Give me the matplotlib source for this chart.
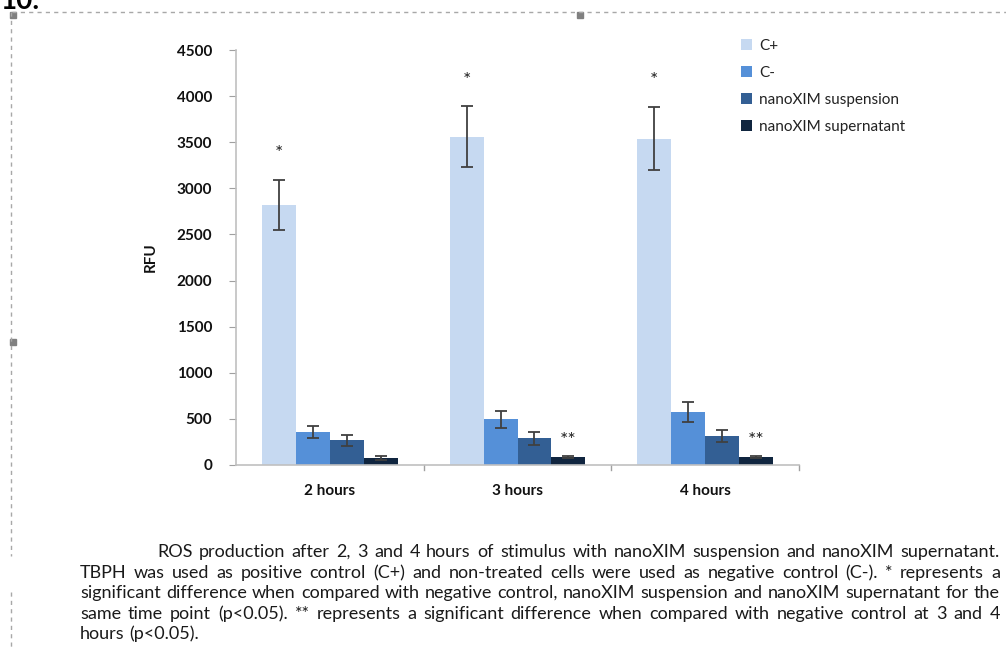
import matplotlib
matplotlib.use("Agg")
import matplotlib.pyplot as plt
import numpy as np
from matplotlib.lines import Line2D
from matplotlib.patches import Rectangle

# ---------------- data ----------------
categories = ["2 hours", "3 hours", "4 hours"]
series_names = ["C+", "C-", "nanoXIM suspension", "nanoXIM supernatant"]
c_pos = [2820, 3560, 3540]
c_neg = [355, 495, 570]
suspension = [270, 290, 315]
supernatant = [78, 90, 90]
err_c_pos = [275, 330, 340]
err_c_neg = [65, 95, 108]
err_suspension = [60, 72, 65]
err_supernatant = [20, 12, 10]
yticks = [0, 500, 1000, 1500, 2000, 2500, 3000, 3500, 4000, 4500]
# significance marks: (category index, series index, label, y value)
sig_marks = [(0, 0, "*", 3380), (1, 0, "*", 4165), (2, 0, "*", 4165),
             (1, 3, "**", 270), (2, 3, "**", 270)]
caption_lines = [
    "ROS production after 2, 3 and 4 hours of stimulus with nanoXIM suspension and nanoXIM supernatant.",
    "TBPH was used as positive control (C+) and non-treated cells were used as negative control (C-). * represents a",
    "significant difference when compared with negative control, nanoXIM suspension and nanoXIM supernatant for the",
    "same time point (p<0.05). ** represents a significant difference when compared with negative control at 3 and 4",
    "hours (p<0.05).",
]

colors = ["#c6d9f1", "#5590d8", "#335f94", "#10253f"]
FONT = "Lato"
plt.rcParams["font.family"] = [FONT, "DejaVu Sans"]

W, H = 1006, 659
fig = plt.figure(figsize=(W / 100, H / 100), dpi=100)
fig.patch.set_facecolor("white")

def fx(px):
    return px / W

def fy(py):
    return 1 - py / H

ax = fig.add_axes([fx(236), fy(465), fx(799) - fx(236), fy(50) - fy(465)])

values = [c_pos, c_neg, suspension, supernatant]
errors = [err_c_pos, err_c_neg, err_suspension, err_supernatant]
x = np.arange(len(categories))
bw = 0.181
offsets = (np.arange(4) - 1.5) * bw
for i in range(4):
    ax.bar(x + offsets[i], values[i], width=bw, color=colors[i], label=series_names[i],
           yerr=errors[i], error_kw=dict(ecolor="#404040", elinewidth=1.3, capsize=4, capthick=1.3),
           zorder=2)

for ci, si, lab, yv in sig_marks:
    ax.text(x[ci] + offsets[si], yv, lab, ha="center", va="center", fontsize=14, color="#222222")

ax.set_xlim(-0.5, 2.5)
ax.set_ylim(0, 4500)
ax.set_yticks(yticks)
ax.set_yticklabels([str(v) for v in yticks], fontsize=11, fontweight="bold", color="#111111")
ax.set_xticks(x)
ax.set_xticklabels(categories, fontsize=11, fontweight="bold", color="#111111")
ax.tick_params(axis="x", length=0, pad=14)
ax.tick_params(axis="y", length=5, color="#a0a0a0", pad=12, direction="out")
# category boundary tick marks
for b in [0.5, 1.5, 2.5]:
    ax.plot([b, b], [0, -0.012], transform=ax.get_xaxis_transform(), color="#a0a0a0",
            lw=1, clip_on=False)
for s in ["top", "right"]:
    ax.spines[s].set_visible(False)
ax.spines["left"].set_color("#c0c0c0")
ax.spines["bottom"].set_color("#c0c0c0")
ax.spines["left"].set_linewidth(1.2)
ax.spines["bottom"].set_linewidth(1.2)
ax.set_ylabel("RFU", fontsize=11, fontweight="bold", color="#111111", labelpad=14)

leg = fig.legend(loc="upper left", bbox_to_anchor=(fx(735), fy(33)), frameon=False,
                 fontsize=11, handlelength=0.7, handleheight=0.7, handletextpad=0.5,
                 labelspacing=0.85, borderaxespad=0)
for t in leg.get_texts():
    t.set_color("#222222")

# ---------------- page decorations ----------------
fig.add_artist(Line2D([fx(12), fx(1006)], [fy(12), fy(12)], color="#a8a8a8", lw=1,
                      linestyle=(0, (3, 3))))
fig.add_artist(Line2D([fx(11), fx(11)], [fy(12), fy(556)], color="#a8a8a8", lw=1,
                      linestyle=(0, (3, 3))))
fig.add_artist(Line2D([fx(11), fx(11)], [fy(592), fy(650)], color="#a8a8a8", lw=1,
                      linestyle=(0, (3, 3))))
for (px, py) in [(13, 15), (580, 15), (13, 342)]:
    fig.add_artist(Rectangle((fx(px - 3), fy(py + 3)), fx(6), 6 / H, color="#808080",
                             transform=fig.transFigure))
fig.text(fx(0), fy(9), "10.", fontsize=20, fontweight="bold", color="black", va="baseline")

# ---------------- justified caption ----------------
renderer = fig.canvas.get_renderer()

def text_width(s, fs):
    t = fig.text(0, 0, s, fontsize=fs)
    w = t.get_window_extent(renderer).width
    t.remove()
    return w

# calibrate size so that the third line's natural width is about 912 px
cap_fs = 10 * 912 / text_width(caption_lines[2], 10)
space = text_width("a a", cap_fs) - text_width("aa", cap_fs)

line_specs = [(157, 1000, True), (80, 1000, True), (80, 1000, True), (80, 1000, True),
              (80, 1000, False)]
baselines = [557, 578, 598, 619, 639]
for text, (x0, x1, justify), yb in zip(caption_lines, line_specs, baselines):
    words = text.split(" ")
    objs = [fig.text(fx(x0), fy(yb), w, fontsize=cap_fs, color="#1a1a1a", va="baseline")
            for w in words]
    widths = [o.get_window_extent(renderer).width for o in objs]
    if justify and len(words) > 1:
        gap = (x1 - x0 - sum(widths)) / (len(words) - 1)
    else:
        gap = space
    cur = x0
    for o, w in zip(objs, widths):
        o.set_x(fx(cur))
        cur += w + gap

fig.savefig("out.png", dpi=100, facecolor="white")
